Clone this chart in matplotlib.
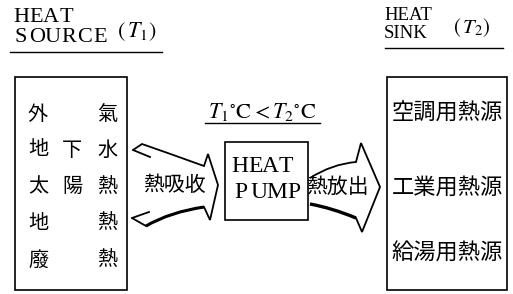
import matplotlib
matplotlib.use('Agg')
import matplotlib.pyplot as plt
from matplotlib.path import Path
from matplotlib.patches import PathPatch, Rectangle

plt.rcParams['mathtext.fontset'] = 'stix'

CJK = ['Noto Sans CJK JP', 'DejaVu Sans']
SERIF = ['Liberation Serif', 'DejaVu Serif']

# 熱源 (左) と 熱利用 (右)
source_rows = [['外', '', '氣'],
               ['地', '下', '水'],
               ['太', '陽', '熱'],
               ['地', '', '熱'],
               ['廢', '', '熱']]
sink_labels = ['空調用熱源', '工業用熱源', '給湯用熱源']
absorb_label = '熱吸收'
release_label = '熱放出'
source_title = ['HEAT', 'SOURCE']
sink_title = ['HEAT', 'SINK']
pump_label = ['HEAT', 'PUMP']
cond_label = r'$T_1{}^{\circ}\mathrm{C} < T_2{}^{\circ}\mathrm{C}$'

fig = plt.figure(figsize=(5.13, 2.94), dpi=100)
ax = fig.add_axes([0, 0, 1, 1])
ax.set_xlim(0, 513)
ax.set_ylim(294, 0)
ax.axis('off')


def spaced(x, y, s, pitch, size, family=SERIF):
    # 字間を空けて一文字ずつ置く
    for i, ch in enumerate(s):
        ax.text(x + i * pitch, y, ch, ha='center', va='center',
                fontsize=size, family=family)


# 見出し
spaced(21, 17, source_title[0], 15.0, 16)
spaced(21, 37, source_title[1], 15.8, 16)
ax.text(137, 32, r'$(\,T_1)$', ha='center', va='center', fontsize=16)
ax.plot([10, 162], [52, 52], color='k', lw=1.0)

ax.text(384, 15, sink_title[0], ha='left', va='center', fontsize=13.5,
        family=SERIF)
ax.text(384, 33, sink_title[1], ha='left', va='center', fontsize=13.5,
        family=SERIF)
ax.text(472, 28, r'$(\,T_2)$', ha='center', va='center', fontsize=15)
ax.plot([385, 503], [48, 48], color='k', lw=1.0)

# 左の箱
ax.add_patch(Rectangle((15, 77), 112, 213, fill=False, lw=1.2, ec='k'))
col_x = [38, 72, 107]
row_y = [115, 150, 187, 223, 260]
for r, row in enumerate(source_rows):
    for c, ch in enumerate(row):
        if ch:
            ax.text(col_x[c], row_y[r], ch, ha='center', va='center',
                    fontsize=14.5, family=CJK)

# 右の箱
ax.add_patch(Rectangle((387, 77), 120, 213, fill=False, lw=1.2, ec='k'))
for lab, y in zip(sink_labels, [113, 187, 253]):
    ax.text(447, y, lab, ha='center', va='center', fontsize=16, family=CJK)

# ヒートポンプ
ax.add_patch(Rectangle((225, 142), 83, 78, fill=False, lw=1.2, ec='k'))
spaced(240, 167, pump_label[0], 15.2, 17)
spaced(241, 193, pump_label[1], 17.7, 17)

ax.text(262, 112, cond_label, ha='center', va='center', fontsize=16)
ax.plot([205, 320], [123, 123], color='k', lw=1.0)

# 熱吸收の矢印
left_outline = Path(
    [(133, 150), (142, 144), (168, 153), (204, 166), (208, 154), (218, 185),
     (210, 220), (204, 207), (170, 212), (146, 226), (132, 218)],
    [Path.MOVETO, Path.LINETO, Path.CURVE3, Path.CURVE3, Path.LINETO,
     Path.LINETO, Path.LINETO, Path.LINETO, Path.CURVE3, Path.CURVE3,
     Path.LINETO])
ax.add_patch(PathPatch(left_outline, fill=False, lw=1.3, ec='k',
                       joinstyle='miter'))
ax.plot([133, 150], [150, 157], color='k', lw=1.3)
ax.plot([132, 149], [218, 212], color='k', lw=1.3)
low_edge = Path([(204, 207), (170, 212), (146, 226)],
                [Path.MOVETO, Path.CURVE3, Path.CURVE3])
ax.add_patch(PathPatch(low_edge, fill=False, lw=2.2, ec='k'))
ax.text(174, 185, absorb_label, ha='center', va='center', fontsize=15,
        family=CJK)

# 熱放出の矢印
right_outline = Path(
    [(310, 178), (332, 164), (356, 162), (361, 143), (380, 187),
     (362, 232), (356, 218), (332, 208), (310, 204)],
    [Path.MOVETO, Path.CURVE3, Path.CURVE3, Path.LINETO, Path.LINETO,
     Path.LINETO, Path.LINETO, Path.CURVE3, Path.CURVE3])
ax.add_patch(PathPatch(right_outline, fill=False, lw=1.3, ec='k',
                       joinstyle='miter'))
low_edge2 = Path([(356, 218), (332, 208), (310, 204)],
                 [Path.MOVETO, Path.CURVE3, Path.CURVE3])
ax.add_patch(PathPatch(low_edge2, fill=False, lw=2.4, ec='k'))
ax.text(337, 187, release_label, ha='center', va='center', fontsize=15,
        family=CJK)

plt.savefig('out.png', dpi=100)
